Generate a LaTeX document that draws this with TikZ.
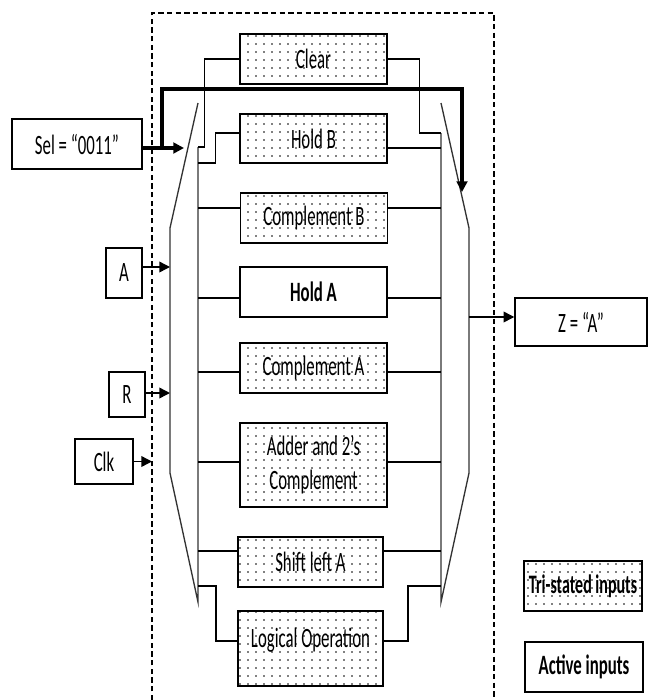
\documentclass[tikz,border=0pt]{standalone}
\usepackage{fontspec}
\setmainfont{Carlito}[FakeStretch=0.6]
\usetikzlibrary{arrows.meta,patterns.meta}

\begin{document}
\begin{tikzpicture}[x=0.75pt,y=-0.75pt,font=\fontsize{21}{25}\selectfont,
  box/.style={draw,line width=1.1pt,inner sep=0pt,minimum width=110pt,minimum height=37.5pt},
  dotbox/.style={box,pattern={Dots[distance=6pt,radius=0.6pt]}},
  wire/.style={line width=1.1pt},
  bus/.style={line width=2.4pt},
  muxline/.style={draw=black!80,line width=1pt},
  tip/.style={-{Triangle[length=8pt,width=8pt]}}]
\useasboundingbox (0,0) rectangle (651,700);
\draw[dashed,dash pattern=on 4pt off 2.5pt,line width=0.9pt] (152,700)--(152,13)--(494,13)--(494,700);
\node[dotbox] (clr) at (313.5,59) {Clear};
\node[dotbox,minimum height=36.75pt] (holdb) at (313.5,138.5) {Hold B};
\node[dotbox] (compb) at (314,218) {Complement B};
\node[box,font=\fontsize{21}{25}\selectfont\bfseries] (holda) at (313.5,292) {Hold A};
\node[dotbox] (compa) at (313.5,368) {Complement A};
\node[dotbox,minimum height=63pt,align=center,font=\fontsize{21}{26}\selectfont] (adder) at (313.5,465) {Adder and 2’s\\Complement};
\node[dotbox,minimum width=109pt] (shl) at (310.5,562) {Shift left A};
\node[dotbox,minimum width=109pt,minimum height=56.25pt,text depth=16pt] (logic) at (310.5,648.5) {Logical Operation};
\node[box,minimum width=97.5pt] (sel) at (77,144) {Sel = “0011”};
\node[box,minimum width=27pt] (ina) at (124,273) {A};
\node[box,minimum width=27pt,minimum height=33.75pt] (inr) at (127,394.5) {R};
\node[box,minimum width=43.5pt,minimum height=33.75pt] (clk) at (104,461.5) {Clk};
\node[box,minimum width=99pt,minimum height=36pt] (zout) at (581,322) {Z = “A”};
\node[dotbox,minimum width=88.5pt,font=\fontsize{20}{24}\selectfont\bfseries] (tri) at (583,586) {Tri-stated inputs};
\node[box,minimum width=88.5pt,font=\fontsize{21}{25}\selectfont\bfseries] (act) at (584,667) {Active inputs};
\draw[muxline] (198,147)--(198,602)--(170,473)--(170,228)--(198,103);
\draw[muxline] (441,133)--(441,602)--(469,473)--(469,228)--(441,103);
\coordinate (lr) at (198,0);
\coordinate (rr) at (441,0);
\coordinate (ml) at (170,0);
\coordinate (mr) at (469,0);
\coordinate (selin) at (184,148);
\coordinate (busL) at (162,148);
\coordinate (busR) at (462,192);
\draw[wire] (clr.west) -- ++(-35,0) |- (lr |- 0,147);
\draw[wire] (holdb.west |- 0,133) -- ++(-24,0) |- (lr |- 0,163);
\draw[wire] (clr.east) -- ++(32,0) |- (rr |- 0,133);
\draw[wire] (holdb.east |- 0,148) -- (rr |- 0,148);
\foreach \n/\y in {compb/208,holda/298,compa/372,adder/462,shl/551}
  \draw[wire] (lr |- 0,\y) -- (\n.west |- 0,\y) (\n.east |- 0,\y) -- (rr |- 0,\y);
\draw[wire] (logic.west |- 0,641) -- ++(-21,0) |- (lr |- 0,586);
\draw[wire] (logic.east |- 0,641) -- ++(24,0) |- (rr |- 0,586);
\draw[bus,tip] (sel.east |- selin) -- (selin);
\draw[bus,tip] (busL) |- (busR |- 0,89) -- (busR);
\draw[wire,tip] (ina.east |- 0,267) -- (ml |- 0,267);
\draw[wire,tip] (inr.east |- 0,393) -- (ml |- 0,393);
\draw[wire,tip] (clk.east) -- (152,461.5);
\draw[wire,tip] (mr |- 0,317) -- (zout.west |- 0,317);
\end{tikzpicture}
\end{document}
